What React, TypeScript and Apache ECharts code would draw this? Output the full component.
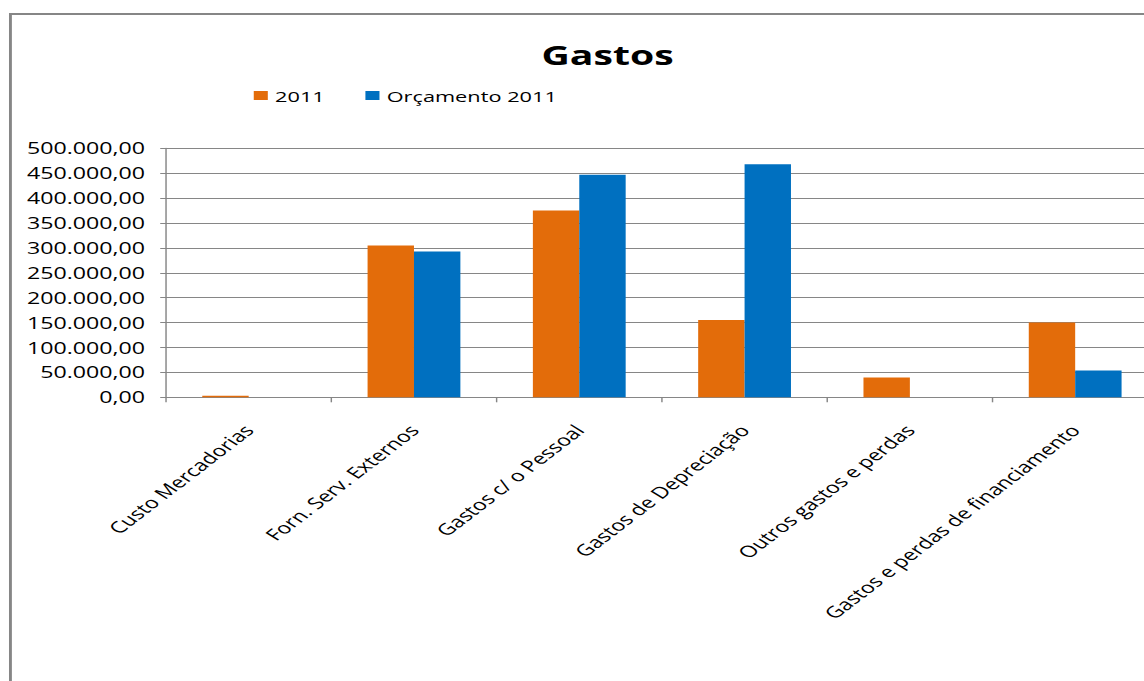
import React, { useEffect, useRef } from "react";
import * as echarts from "echarts";

const categories = [
  "Custo Mercadorias",
  "Forn. Serv. Externos",
  "Gastos c/ o Pessoal",
  "Gastos de Depreciação",
  "Outros gastos e perdas",
  "Gastos e perdas de financiamento",
];
const seriesNames = ["2011", "Orçamento 2011"];
const values2011 = [3000, 305000, 375000, 155000, 40000, 150000];
const valuesOrcamento = [0, 293000, 447000, 468000, 0, 54000];
const yMin = 0;
const yMax = 500000;
const yStep = 50000;

const SX = 1.45;
const FULL_W = 1144;
const FULL_H = 681;
const W = FULL_W / SX;
const FONT = "'Open Sans', 'Noto Sans', sans-serif";
const GRID = "#868686";

const fmt = (v: number) =>
  Math.round(v).toString().replace(/\B(?=(\d{3})+(?!\d))/g, ".") + ",00";

export default function App() {
  const ref = useRef<HTMLDivElement>(null);
  useEffect(() => {
    if (!ref.current) return;
    const chart = echarts.init(ref.current, undefined, { renderer: "svg" });
    chart.setOption({
      animation: false,
      backgroundColor: "#ffffff",
      textStyle: { fontFamily: FONT },
      title: {
        text: "Gastos",
        left: 414,
        top: 36,
        textAlign: "center",
        textStyle: { fontFamily: FONT, fontSize: 27, fontWeight: "bold", color: "#000" },
      },
      legend: {
        data: seriesNames,
        left: 170,
        top: 83,
        itemWidth: 9.7,
        itemHeight: 9,
        itemGap: 28,
        icon: "rect",
        textStyle: { fontFamily: FONT, fontSize: 15, color: "#000", lineHeight: 15 },
      },
      graphic: [
        {
          type: "rect",
          silent: true,
          z: -1,
          shape: { x: 7.2, y: 14, width: 3000, height: 3000 },
          style: { fill: "none", stroke: GRID, lineWidth: 2 },
        },
      ],
      grid: {
        left: 114.5,
        top: 148.3,
        width: 684,
        height: 249,
        containLabel: false,
        outerBoundsMode: "none",
      },
      xAxis: {
        type: "category",
        data: categories,
        axisLine: { show: true, lineStyle: { color: GRID, width: 1 } },
        axisTick: { show: true, length: 5, lineStyle: { color: GRID } },
        axisLabel: {
          interval: 0,
          rotate: 48,
          margin: 30,
          fontFamily: FONT,
          fontSize: 16,
          color: "#000",
        },
        splitLine: { show: false },
      },
      yAxis: {
        type: "value",
        min: yMin,
        max: yMax,
        interval: yStep,
        axisLine: { show: true, lineStyle: { color: GRID, width: 1 } },
        axisTick: { show: true, length: 4, lineStyle: { color: GRID } },
        axisLabel: {
          margin: 14.5,
          fontFamily: FONT,
          fontSize: 16,
          color: "#000",
          formatter: fmt,
        },
        splitLine: { show: true, lineStyle: { color: GRID, width: 1 } },
      },
      series: [
        {
          name: seriesNames[0],
          type: "bar",
          data: values2011,
          barWidth: 32,
          barGap: "0%",
          itemStyle: { color: "#E36C0A" },
        },
        {
          name: seriesNames[1],
          type: "bar",
          data: valuesOrcamento,
          barWidth: 32,
          barGap: "0%",
          itemStyle: { color: "#0070C0" },
        },
      ],
    });
    return () => chart.dispose();
  }, []);

  return (
    <div
      style={{
        position: "absolute",
        left: 0,
        top: 0,
        width: FULL_W,
        height: FULL_H,
        overflow: "hidden",
        background: "#fff",
      }}
    >
      <div
        style={{
          width: W,
          height: FULL_H,
          transform: `scaleX(${SX})`,
          transformOrigin: "0 0",
        }}
      >
        <div ref={ref} style={{ width: W, height: FULL_H }} />
      </div>
    </div>
  );
}
